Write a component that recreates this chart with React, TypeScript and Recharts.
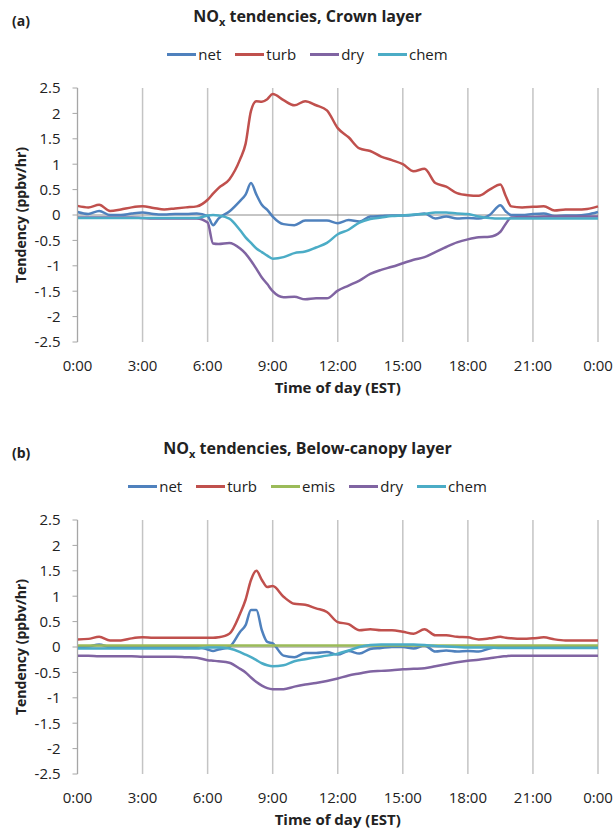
import {
  LineChart,
  Line,
  XAxis,
  YAxis,
  CartesianGrid,
  ReferenceLine,
  Legend,
} from "recharts";

// hours of the day, half-hourly with a few extra points around the morning peak
const hours = [
  0, 0.5, 1, 1.5, 2, 2.5, 3, 3.5, 4, 4.5, 5, 5.5, 6, 6.25, 6.5, 7, 7.5, 7.75, 8,
  8.25, 8.5, 8.75, 9, 9.5, 10, 10.5, 11, 11.5, 12, 12.5, 13, 13.5, 14, 14.5, 15,
  15.5, 16, 16.5, 17, 17.5, 18, 18.5, 19, 19.5, 19.75, 20, 20.5, 21, 21.5, 22,
  22.5, 23, 23.5, 24,
];

const xTicks = [0, 3, 6, 9, 12, 15, 18, 21, 24];
const yTicks = [2.5, 2, 1.5, 1, 0.5, 0, -0.5, -1, -1.5, -2, -2.5];

// (a) crown layer
const crownNet = [
  0.06, 0.02, 0.08, 0, 0, 0.03, 0.05, 0.02, 0.01, 0.02, 0.02, 0.03, -0.02, -0.2,
  -0.07, 0.07, 0.28, 0.4, 0.63, 0.4, 0.2, 0.1, -0.03, -0.18, -0.2, -0.11, -0.11,
  -0.11, -0.16, -0.1, -0.13, -0.03, -0.02, -0.01, -0.01, 0, 0.03, -0.07, -0.03,
  -0.07, -0.06, -0.07, 0, 0.19, 0.07, 0, 0, 0.02, 0.03, -0.02, -0.01, -0.01,
  0.01, 0.06,
];
const crownTurb = [
  0.18, 0.15, 0.2, 0.08, 0.11, 0.15, 0.17, 0.14, 0.11, 0.13, 0.15, 0.17, 0.3,
  0.42, 0.53, 0.7, 1.1, 1.4, 2.05, 2.24, 2.23, 2.28, 2.38, 2.26, 2.16, 2.24,
  2.16, 2.06, 1.71, 1.53, 1.31, 1.26, 1.15, 1.08, 1.0, 0.86, 0.91, 0.63, 0.56,
  0.43, 0.39, 0.38, 0.5, 0.6, 0.37, 0.17, 0.15, 0.16, 0.17, 0.09, 0.11, 0.11,
  0.12, 0.17,
];
const crownDry = [
  -0.05, -0.05, -0.05, -0.05, -0.05, -0.05, -0.06, -0.07, -0.07, -0.07, -0.07,
  -0.07, -0.15, -0.56, -0.57, -0.55, -0.66, -0.76, -0.9, -1.06, -1.23, -1.36,
  -1.5, -1.62, -1.61, -1.66, -1.64, -1.64, -1.49, -1.39, -1.29, -1.16, -1.08,
  -1.02, -0.95, -0.88, -0.83, -0.73, -0.63, -0.54, -0.48, -0.44, -0.43, -0.33,
  -0.17, -0.05, -0.04, -0.04, -0.03, -0.03, -0.03, -0.03, -0.03, -0.03,
];
const crownChem = [
  -0.06, -0.06, -0.06, -0.06, -0.06, -0.06, -0.06, -0.06, -0.06, -0.06, -0.06,
  -0.06, -0.01, 0, -0.01, -0.07, -0.3, -0.44, -0.55, -0.66, -0.73, -0.8, -0.86,
  -0.83, -0.75, -0.72, -0.64, -0.55, -0.38, -0.29, -0.15, -0.08, -0.05, -0.02,
  -0.01, 0.01, 0.02, 0.05, 0.05, 0.03, 0.02, -0.03, -0.06, -0.07, -0.07, -0.07,
  -0.07, -0.07, -0.07, -0.07, -0.07, -0.07, -0.07, -0.07,
];

// (b) below-canopy layer
const belowNet = [
  0, 0.01, 0.05, 0, 0, 0, 0, 0, 0, 0, 0, 0, -0.05, -0.08, -0.05, 0, 0.3, 0.43,
  0.73, 0.73, 0.33, 0.1, 0.07, -0.17, -0.2, -0.12, -0.12, -0.1, -0.15, -0.08,
  -0.13, -0.04, -0.02, 0, 0, -0.03, 0.03, -0.09, -0.07, -0.09, -0.08, -0.09,
  -0.03, 0, 0, 0, 0, 0, 0, 0, 0, 0, 0, 0,
];
const belowTurb = [
  0.15, 0.16, 0.2, 0.13, 0.13, 0.17, 0.19, 0.18, 0.18, 0.18, 0.18, 0.18, 0.18,
  0.18, 0.19, 0.26, 0.66, 0.93, 1.32, 1.5, 1.32, 1.18, 1.2, 0.99, 0.85, 0.83,
  0.76, 0.69, 0.49, 0.45, 0.33, 0.35, 0.33, 0.33, 0.3, 0.26, 0.35, 0.23, 0.23,
  0.2, 0.19, 0.15, 0.17, 0.2, 0.18, 0.17, 0.16, 0.17, 0.19, 0.15, 0.13, 0.13,
  0.13, 0.13,
];
const belowEmis = [
  0.03, 0.03, 0.03, 0.03, 0.03, 0.03, 0.03, 0.03, 0.03, 0.03, 0.03, 0.03, 0.03,
  0.03, 0.03, 0.03, 0.03, 0.03, 0.03, 0.03, 0.03, 0.03, 0.03, 0.03, 0.03, 0.03,
  0.03, 0.03, 0.03, 0.03, 0.03, 0.03, 0.03, 0.03, 0.03, 0.03, 0.03, 0.03, 0.03,
  0.03, 0.03, 0.03, 0.03, 0.03, 0.03, 0.03, 0.03, 0.03, 0.03, 0.03, 0.03, 0.03,
  0.03, 0.03,
];
const belowDry = [
  -0.17, -0.17, -0.18, -0.18, -0.18, -0.18, -0.19, -0.19, -0.19, -0.19, -0.2,
  -0.21, -0.26, -0.27, -0.28, -0.31, -0.43, -0.5, -0.6, -0.69, -0.76, -0.81,
  -0.83, -0.83, -0.78, -0.74, -0.71, -0.67, -0.62, -0.56, -0.52, -0.48, -0.47,
  -0.46, -0.44, -0.43, -0.42, -0.38, -0.34, -0.3, -0.27, -0.25, -0.22, -0.19,
  -0.18, -0.17, -0.17, -0.17, -0.17, -0.17, -0.17, -0.17, -0.17, -0.17,
];
const belowChem = [
  -0.03, -0.03, -0.03, -0.03, -0.03, -0.03, -0.03, -0.03, -0.03, -0.03, -0.03,
  -0.03, -0.01, -0.01, -0.01, -0.03, -0.1, -0.15, -0.2, -0.26, -0.32, -0.36,
  -0.38, -0.36, -0.28, -0.24, -0.2, -0.17, -0.13, -0.07, 0, 0.04, 0.05, 0.05,
  0.05, 0.05, 0.04, 0.02, 0.01, 0, -0.01, -0.01, -0.01, -0.02, -0.02, -0.02,
  -0.02, -0.02, -0.02, -0.02, -0.02, -0.02, -0.02, -0.02,
];

const COLORS: Record<string, string> = {
  net: "#4F81BD",
  turb: "#C0504D",
  emis: "#9BBB59",
  dry: "#8064A2",
  chem: "#4BACC6",
};

const FONT = "'Open Sans', 'Liberation Sans', sans-serif";

type Series = { key: string; values: number[] };

function LegendRow({ payload, order }: any) {
  const items = [...(payload || [])].sort(
    (a: any, b: any) => order.indexOf(a.value) - order.indexOf(b.value)
  );
  return (
    <div
      style={{
        display: "flex",
        justifyContent: "center",
        gap: 14,
        fontFamily: FONT,
        fontSize: 15,
        color: "#222",
        lineHeight: "16px",
        height: 16,
      }}
    >
      {items.map((p: any) => (
        <div key={p.value} style={{ display: "flex", alignItems: "center" }}>
          <div
            style={{
              width: 29,
              height: 3,
              background: p.color,
              marginRight: 2,
            }}
          />
          <span>{p.value}</span>
        </div>
      ))}
    </div>
  );
}

function Panel({
  tag,
  title,
  series,
}: {
  tag: string;
  title: string;
  series: Series[];
}) {
  const data = hours.map((t, i) => {
    const row: Record<string, number> = { t };
    series.forEach((s) => (row[s.key] = s.values[i]));
    return row;
  });
  const order = series.map((s) => s.key);

  return (
    <div style={{ position: "relative", width: 615, height: 400 }}>
      <div
        style={{
          position: "absolute",
          left: 12,
          top: 11,
          fontFamily: FONT,
          fontWeight: 700,
          fontSize: 14,
          color: "#222",
        }}
      >
        {tag}
      </div>
      <div
        style={{
          position: "absolute",
          left: 0,
          width: 615,
          top: 5,
          textAlign: "center",
          fontFamily: FONT,
          fontWeight: 700,
          fontSize: 16,
          color: "#222",
        }}
      >
        NO<sub style={{ fontSize: 11 }}>x</sub> {title}
      </div>
      <LineChart
        width={615}
        height={400}
        data={data}
        margin={{ top: 72, right: 17, left: 17.5, bottom: 8 }}
      >
        <CartesianGrid
          horizontal={false}
          stroke="#c4c4c4"
          strokeWidth={1.5}
        />
        <XAxis
          dataKey="t"
          type="number"
          domain={[0, 24]}
          ticks={xTicks}
          tickFormatter={(v: number) => `${v % 24}:00`}
          axisLine={false}
          tickLine={false}
          tickMargin={12}
          height={50}
          tick={{ fontFamily: FONT, fontSize: 15, fill: "#222" }}
          label={{
            value: "Time of day (EST)",
            position: "insideBottom",
            offset: -1,
            style: {
              fontFamily: FONT,
              fontSize: 15,
              fontWeight: 700,
              fill: "#222",
            },
          }}
        />
        <YAxis
          type="number"
          domain={[-2.5, 2.5]}
          ticks={yTicks}
          width={60}
          interval={0}
          stroke="#a6a6a6"
          tickSize={5}
          tickMargin={12}
          tick={{ fontFamily: FONT, fontSize: 15, fill: "#222" }}
          label={(props: any) => {
            const vb = props.viewBox;
            const cy = vb.y + vb.height / 2;
            return (
              <text
                x={20}
                y={cy}
                transform={`rotate(-90, 20, ${cy})`}
                textAnchor="middle"
                dominantBaseline="central"
                style={{
                  fontFamily: FONT,
                  fontSize: 14,
                  fontWeight: 700,
                  fill: "#222",
                }}
              >
                Tendency (ppbv/hr)
              </text>
            );
          }}
        />
        <ReferenceLine y={0} stroke="#8c8c8c" strokeWidth={1} />
        <Legend
          verticalAlign="top"
          height={16}
          content={<LegendRow order={order} />}
          wrapperStyle={{ top: 46, left: 0, width: 615 }}
        />
        {series.map((s) => (
          <Line
            key={s.key}
            dataKey={s.key}
            name={s.key}
            type="monotone"
            stroke={COLORS[s.key]}
            strokeWidth={2.5}
            dot={false}
            isAnimationActive={false}
          />
        ))}
      </LineChart>
    </div>
  );
}

export default function App() {
  return (
    <div
      style={{
        position: "absolute",
        left: 0,
        top: 0,
        width: 615,
        height: 832,
        background: "#fff",
        overflow: "hidden",
      }}
    >
      <Panel
        tag="(a)"
        title="tendencies, Crown layer"
        series={[
          { key: "net", values: crownNet },
          { key: "turb", values: crownTurb },
          { key: "dry", values: crownDry },
          { key: "chem", values: crownChem },
        ]}
      />
      <div style={{ position: "absolute", left: 0, top: 432 }}>
        <Panel
          tag="(b)"
          title="tendencies, Below-canopy layer"
          series={[
            { key: "net", values: belowNet },
            { key: "turb", values: belowTurb },
            { key: "emis", values: belowEmis },
            { key: "dry", values: belowDry },
            { key: "chem", values: belowChem },
          ]}
        />
      </div>
    </div>
  );
}
